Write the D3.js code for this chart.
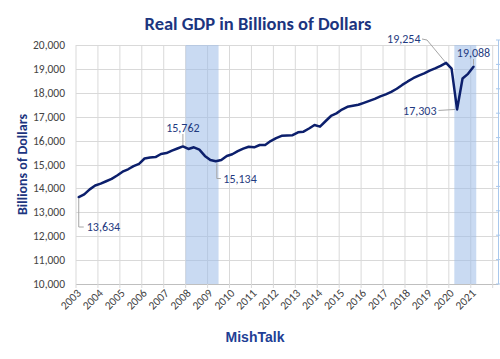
<!DOCTYPE html>
<html>
<head>
<meta charset="utf-8">
<script src="https://cdn.jsdelivr.net/npm/d3@7"></script>
<style>
  html, body { margin: 0; padding: 0; background: #fff; }
  svg { display: block; }
</style>
</head>
<body>
<svg id="chart" width="500" height="359"></svg>
<script>
// ---- data ----
const startYear = 2003;            // first quarter = 2003 Q1
const gdp = [
  13634, 13751, 13960, 14120,      // 2003
  14200, 14300, 14400, 14540,      // 2004
  14700, 14800, 14930, 15030,      // 2005
  15250, 15290, 15310, 15440,      // 2006
  15480, 15580, 15670, 15762,      // 2007
  15650, 15720, 15620, 15360,      // 2008
  15190, 15134, 15190, 15355,      // 2009
  15430, 15560, 15665, 15745,      // 2010
  15720, 15815, 15820, 15980,      // 2011
  16105, 16200, 16215, 16225,      // 2012
  16345, 16375, 16505, 16650,      // 2013
  16585, 16810, 17030, 17140,      // 2014
  17300, 17415, 17460, 17500,      // 2015
  17580, 17665, 17745, 17850,      // 2016
  17935, 18040, 18170, 18330,      // 2017
  18475, 18610, 18720, 18810,      // 2018
  18925, 19020, 19130, 19254,      // 2019
  19010, 17303, 18596, 18794,      // 2020
  19088                            // 2021
];
const yTicks = [10000, 11000, 12000, 13000, 14000, 15000, 16000, 17000, 18000, 19000, 20000];
const yearTicks = [2003, 2004, 2005, 2006, 2007, 2008, 2009, 2010, 2011, 2012,
                   2013, 2014, 2015, 2016, 2017, 2018, 2019, 2020, 2021];
const recessions = [[2008.0, 2009.5], [2020.25, 2021.25]];
const labelled = [
  {q: 0,  value: 13634},
  {q: 19, value: 15762},
  {q: 25, value: 15134},
  {q: 67, value: 19254},
  {q: 69, value: 17303},
  {q: 72, value: 19088}
];
const title = "Real GDP in Billions of Dollars";
const yTitle = "Billions of Dollars";
const source = "MishTalk";

// ---- layout ----
const svg = d3.select("#chart");
const pLeft = 76, pRight = 492.7, pTop = 45, pBottom = 284, axis2X = 498.5;
const x = d3.scaleLinear().domain([2003, 2022]).range([pLeft, pRight]);
const y = d3.scaleLinear().domain([10000, 20000]).range([pBottom, pTop]);
const y2 = d3.scaleLinear().domain([0, 1]).range([pBottom, 40]);
const qDate = i => startYear + i / 4 + 0.125;   // centre of each quarter

const navy = "#0c1f6c", labelCol = "#1f3a80", gridCol = "#d9d9d9", tickCol = "#444444";
const font = "Carlito, Lato, 'Open Sans', sans-serif";

svg.append("rect").attr("width", 500).attr("height", 359).attr("fill", "#fff");

// gridlines
svg.append("g").selectAll("line").data(yTicks).join("line")
  .attr("x1", pLeft).attr("x2", axis2X)
  .attr("y1", d => Math.round(y(d)) + 0.5).attr("y2", d => Math.round(y(d)) + 0.5)
  .attr("stroke", d => d === 10000 ? "#bfbfbf" : gridCol).attr("stroke-width", 1);
svg.append("g").selectAll("line").data(d3.range(2003, 2023)).join("line")
  .attr("x1", d => x(d)).attr("x2", d => x(d))
  .attr("y1", pTop).attr("y2", pBottom + 4)
  .attr("stroke", gridCol).attr("stroke-width", 1);

// recession bands
svg.append("g").selectAll("rect").data(recessions).join("rect")
  .attr("x", d => x(d[0])).attr("width", d => x(d[1]) - x(d[0]))
  .attr("y", pTop).attr("height", pBottom - pTop)
  .attr("fill", "#9dbbe8").attr("fill-opacity", 0.55);

// secondary axis (recession series)
const ax2 = svg.append("g");
ax2.append("line").attr("x1", axis2X).attr("x2", axis2X).attr("y1", y2(1)).attr("y2", pBottom)
  .attr("stroke", "#a9c8ec").attr("stroke-width", 1);
ax2.selectAll("line.t").data(d3.range(0, 11).map(d => d / 10)).join("line").attr("class", "t")
  .attr("x1", axis2X - 2.5).attr("x2", axis2X + 3)
  .attr("y1", d => y2(d)).attr("y2", d => y2(d))
  .attr("stroke", "#a9c8ec").attr("stroke-width", 1);

// y tick labels
svg.append("g").selectAll("text").data(yTicks).join("text")
  .attr("x", 65).attr("y", d => y(d)).attr("dy", "0.35em")
  .attr("text-anchor", "end").attr("font-family", font).attr("font-size", 11.5)
  .attr("fill", tickCol).text(d => d3.format(",")(d));

// x tick labels
svg.append("g").selectAll("text").data(yearTicks).join("text")
  .attr("transform", d => `translate(${x(d) + 3},${pBottom + 7}) rotate(-45)`)
  .attr("text-anchor", "end").attr("dy", "0.35em")
  .attr("font-family", font).attr("font-size", 11.5)
  .attr("fill", tickCol).text(d => d);

// line
const line = d3.line().x((d, i) => x(qDate(i))).y(d => y(d));
svg.append("path").datum(gdp).attr("d", line)
  .attr("fill", "none").attr("stroke", navy).attr("stroke-width", 2.5)
  .attr("stroke-linejoin", "round").attr("stroke-linecap", "round");

// annotations
const leader = "#a6a6a6";
const fmt = d3.format(",");
const ann = svg.append("g").attr("font-family", font).attr("font-size", 12).attr("fill", labelCol);
function pt(k) { const d = labelled[k]; return [x(qDate(d.q)), y(d.value)]; }
function lead(points) {
  svg.append("path").attr("d", d3.line()(points)).attr("fill", "none")
     .attr("stroke", leader).attr("stroke-width", 1);
}
// 13,634
{ const [px, py] = pt(0);
  lead([[px, py + 1], [px, 227], [px + 5, 227]]);
  ann.append("text").attr("x", px + 8).attr("y", 227).attr("dy", "0.35em").text(fmt(labelled[0].value)); }
// 15,762
{ const [px, py] = pt(1);
  lead([[px, py - 1], [px, 134]]);
  ann.append("text").attr("x", px).attr("y", 127.5).attr("text-anchor", "middle").attr("dy", "0.35em").text(fmt(labelled[1].value)); }
// 15,134
{ const [px, py] = pt(2);
  lead([[px + 1, py + 2], [px + 1, 178.5], [px + 5, 178.5]]);
  ann.append("text").attr("x", px + 7.5).attr("y", 179).attr("dy", "0.35em").text(fmt(labelled[2].value)); }
// 19,254
{ const [px, py] = pt(3);
  lead([[422, 39], [427, 40], [px - 1, py - 1]]);
  ann.append("text").attr("x", 420.5).attr("y", 39).attr("text-anchor", "end").attr("dy", "0.35em").text(fmt(labelled[3].value)); }
// 17,303
{ const [px, py] = pt(4);
  lead([[438.5, py + 1], [px - 2, py]]);
  ann.append("text").attr("x", 436.5).attr("y", py + 1).attr("text-anchor", "end").attr("dy", "0.35em").text(fmt(labelled[4].value)); }
// 19,088
{ const [px, py] = pt(5);
  lead([[px, py - 2], [px, 59]]);
  ann.append("text").attr("x", px).attr("y", 53).attr("text-anchor", "middle").attr("dy", "0.35em").text(fmt(labelled[5].value)); }

// titles
svg.append("text").attr("x", 258).attr("y", 29.5).attr("text-anchor", "middle")
  .attr("font-family", font).attr("font-weight", "bold").attr("font-size", 18.5)
  .attr("fill", "#1c357f").text(title);
svg.append("text").attr("transform", `translate(27,${(pTop + pBottom) / 2}) rotate(-90)`)
  .attr("text-anchor", "middle").attr("font-family", font).attr("font-weight", "bold")
  .attr("font-size", 14).attr("fill", "#1c357f").text(yTitle);
svg.append("text").attr("x", 255).attr("y", 342).attr("text-anchor", "middle")
  .attr("font-family", "'Liberation Sans', Arial, sans-serif").attr("font-weight", "bold")
  .attr("font-size", 14).attr("fill", "#213e95").text(source);
</script>
</body>
</html>
